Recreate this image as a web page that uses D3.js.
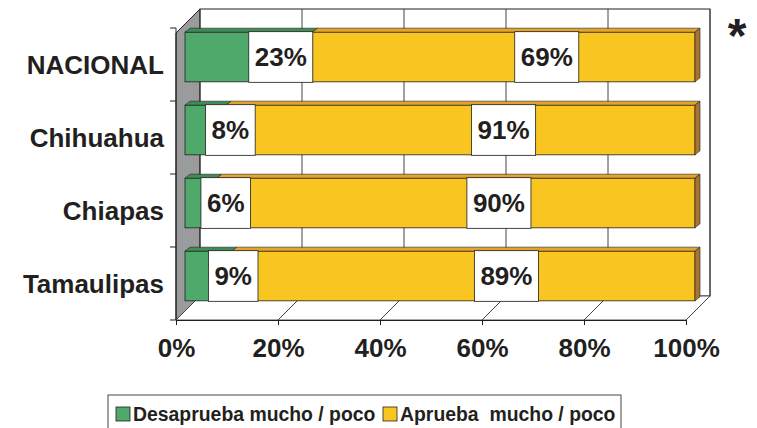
<!DOCTYPE html>
<html>
<head>
<meta charset="utf-8">
<script src="https://cdn.jsdelivr.net/npm/d3@7"></script>
<style>
  body { margin: 0; background: #fff; }
  svg { display: block; font-family: Arial, "Liberation Sans", sans-serif; font-weight: bold; }
</style>
</head>
<body>
<div id="chart"></div>
<script>
// chart data
const categories = ['NACIONAL', 'Chihuahua', 'Chiapas', 'Tamaulipas'];
const desaprueba = [23, 8, 6, 9];
const aprueba = [69, 91, 90, 89];
const xTicks = [0, 20, 40, 60, 80, 100];
const seriesNames = ['Desaprueba mucho / poco', 'Aprueba  mucho / poco'];

const width = 757, height = 428;
const ink = '#231f20';
const green = '#4fa96b', greenTop = '#3f8c57';
const yellow = '#f8c521', yellowTop = '#e2a52a', yellowSide = '#a8742f';

// 3d-ish offsets
const depth = { dx: 24, dy: -24 };      // floor depth
const plane = { dx: 9, dy: -7.5 };      // where bars sit inside the depth
const thick = { dx: 5, dy: -4 };        // bar extrusion

const svg = d3.select('#chart')
   .append('svg')
   .attr('width', width)
   .attr('height', height);

const front = { left: 176, right: 686, top: 33, bottom: 320 };

// scales: x is in percent of the (normalised) bar
const xScale = d3.scaleLinear()
   .domain([0, 100])
   .range([front.left, front.right]);

const yScale = d3.scaleBand()
   .domain(categories)
   .range([28, front.bottom])
   .paddingInner(0.32)
   .paddingOuter(0.16);

const walls = svg.append('g').classed('walls', true);

// left side wall
walls.append('polygon')
   .attr('points', [
      [front.left, front.top],
      [front.left + depth.dx, front.top + depth.dy],
      [front.left + depth.dx, front.bottom + depth.dy],
      [front.left, front.bottom]
   ].join(' '))
   .attr('fill', '#9a9b9d')
   .attr('stroke', ink)
   .attr('stroke-width', 1);

// back wall
walls.append('rect')
   .attr('x', front.left + depth.dx)
   .attr('y', front.top + depth.dy)
   .attr('width', xScale(100) - xScale(0))
   .attr('height', front.bottom - front.top)
   .attr('fill', '#fff')
   .attr('stroke', ink)
   .attr('stroke-width', 1);

// floor
walls.append('polygon')
   .attr('points', [
      [front.left, front.bottom],
      [front.right, front.bottom],
      [front.right + depth.dx, front.bottom + depth.dy],
      [front.left + depth.dx, front.bottom + depth.dy]
   ].join(' '))
   .attr('fill', '#fff')
   .attr('stroke', '#555')
   .attr('stroke-width', 1);

// gridlines on back wall
walls.selectAll('.grid')
   .data(xTicks)
   .enter()
   .append('line')
   .classed('grid', true)
   .attr('x1', d => xScale(d) + depth.dx)
   .attr('x2', d => xScale(d) + depth.dx)
   .attr('y1', front.top + depth.dy)
   .attr('y2', front.bottom + depth.dy)
   .attr('stroke', '#444')
   .attr('stroke-width', 1);

// diagonals on the floor
walls.selectAll('.floor-line')
   .data(xTicks)
   .enter()
   .append('line')
   .classed('floor-line', true)
   .attr('x1', d => xScale(d))
   .attr('x2', d => xScale(d) + depth.dx)
   .attr('y1', front.bottom)
   .attr('y2', front.bottom + depth.dy)
   .attr('stroke', '#444')
   .attr('stroke-width', 1);

// x axis (front edge of the floor)
const xAxis = d3.axisBottom(xScale)
   .tickValues(xTicks)
   .tickSize(5)
   .tickSizeOuter(0)
   .tickPadding(14)
   .tickFormat(d => d + '%');

const gx = svg.append('g')
   .classed('x axis', true)
   .attr('transform', `translate(0,${front.bottom})`)
   .call(xAxis);
gx.select('.domain').attr('stroke', ink);
gx.selectAll('.tick line').attr('stroke', ink);
gx.selectAll('.tick text')
   .attr('fill', ink)
   .style('font-size', '26px')
   .style('font-family', 'Arial, "Liberation Sans", sans-serif')
   .style('font-weight', 'bold');

// y axis: line plus ticks between categories
svg.append('line')
   .attr('x1', front.left).attr('x2', front.left)
   .attr('y1', yScale.range()[0]).attr('y2', front.bottom)
   .attr('stroke', ink);

const step = yScale.step();
const bounds = categories.map((c, i) => yScale.range()[0] + i * step);
bounds.push(front.bottom);
svg.selectAll('.ytick')
   .data(bounds)
   .enter()
   .append('line')
   .classed('ytick', true)
   .attr('x1', front.left - 6).attr('x2', front.left)
   .attr('y1', d => d).attr('y2', d => d)
   .attr('stroke', ink);

svg.selectAll('.cat-label')
   .data(categories)
   .enter()
   .append('text')
   .classed('cat-label', true)
   .attr('x', 164)
   .attr('y', d => yScale(d) + yScale.bandwidth() / 2)
   .attr('dy', '0.36em')
   .attr('text-anchor', 'end')
   .attr('fill', ink)
   .style('font-size', '26px')
   .text(d => d);

// bars (100% stacked, normalised)
const rows = categories.map((c, i) => {
   const total = desaprueba[i] + aprueba[i];
   const g = desaprueba[i] / total * 100;
   return { cat: c, d: desaprueba[i], a: aprueba[i], gEnd: g };
});

const bx = v => xScale(v) + plane.dx;
const by = c => yScale(c) + plane.dy;
const bh = yScale.bandwidth();

const barG = svg.append('g').classed('bars', true);
rows.forEach(r => {
   const g = barG.append('g');
   const y = by(r.cat);
   const segs = [
      { x0: bx(0), x1: bx(r.gEnd), front: green, top: greenTop },
      { x0: bx(r.gEnd), x1: bx(100), front: yellow, top: yellowTop }
   ];
   segs.forEach(s => {
      g.append('rect')
         .attr('x', s.x0).attr('y', y)
         .attr('width', s.x1 - s.x0).attr('height', bh)
         .attr('fill', s.front)
         .attr('stroke', ink).attr('stroke-width', 0.8);
      g.append('polygon')
         .attr('points', [
            [s.x0, y], [s.x0 + thick.dx, y + thick.dy],
            [s.x1 + thick.dx, y + thick.dy], [s.x1, y]
         ].join(' '))
         .attr('fill', s.top)
         .attr('stroke', ink).attr('stroke-width', 0.6);
   });
   g.append('polygon')
      .attr('points', [
         [bx(100), y], [bx(100) + thick.dx, y + thick.dy],
         [bx(100) + thick.dx, y + bh + thick.dy], [bx(100), y + bh]
      ].join(' '))
      .attr('fill', yellowSide)
      .attr('stroke', ink).attr('stroke-width', 0.6);
});

// value labels in white boxes
const labels = [];
rows.forEach(r => {
   const gMid = bx(r.gEnd / 2);
   const aMid = bx(r.gEnd + (100 - r.gEnd) / 2);
   labels.push({ cat: r.cat, text: r.d + '%', left: gMid });
   labels.push({ cat: r.cat, text: r.a + '%', center: aMid + 43 });
});

const labG = svg.append('g').classed('value-labels', true);
labels.forEach(l => {
   const g = labG.append('g');
   const y = by(l.cat);
   const box = g.append('rect');
   const t = g.append('text')
      .attr('y', y + bh / 2)
      .attr('dy', '0.36em')
      .attr('text-anchor', 'middle')
      .attr('fill', ink)
      .style('font-size', '26px')
      .text(l.text);
   const w = t.node().getComputedTextLength() + 12;
   const cx = l.left !== undefined ? l.left + w / 2 : l.center;
   t.attr('x', cx);
   box.attr('x', cx - w / 2).attr('y', y - 0.5)
      .attr('width', w).attr('height', bh + 1)
      .attr('fill', '#fff')
      .attr('stroke', ink).attr('stroke-width', 0.8);
});

// asterisk
svg.append('text')
   .attr('x', 737)
   .attr('y', 52)
   .attr('text-anchor', 'middle')
   .attr('fill', ink)
   .style('font-size', '48px')
   .text('*');

// legend
const legend = svg.append('g').classed('legend', true);
legend.append('rect')
   .attr('x', 108).attr('y', 395)
   .attr('width', 513).attr('height', 45)
   .attr('fill', '#fff')
   .attr('stroke', '#444');

const legendItems = [
   { name: seriesNames[0], color: green, x: 116 },
   { name: seriesNames[1], color: yellow, x: 383 }
];
legendItems.forEach(it => {
   legend.append('rect')
      .attr('x', it.x).attr('y', 407)
      .attr('width', 14).attr('height', 14)
      .attr('fill', it.color)
      .attr('stroke', ink).attr('stroke-width', 0.8);
   legend.append('text')
      .attr('x', it.x + 17)
      .attr('y', 421)
      .attr('fill', ink)
      .style('font-size', '19.4px')
      .style('white-space', 'pre')
      .attr('xml:space', 'preserve')
      .text(it.name);
});
</script>
</body>
</html>
